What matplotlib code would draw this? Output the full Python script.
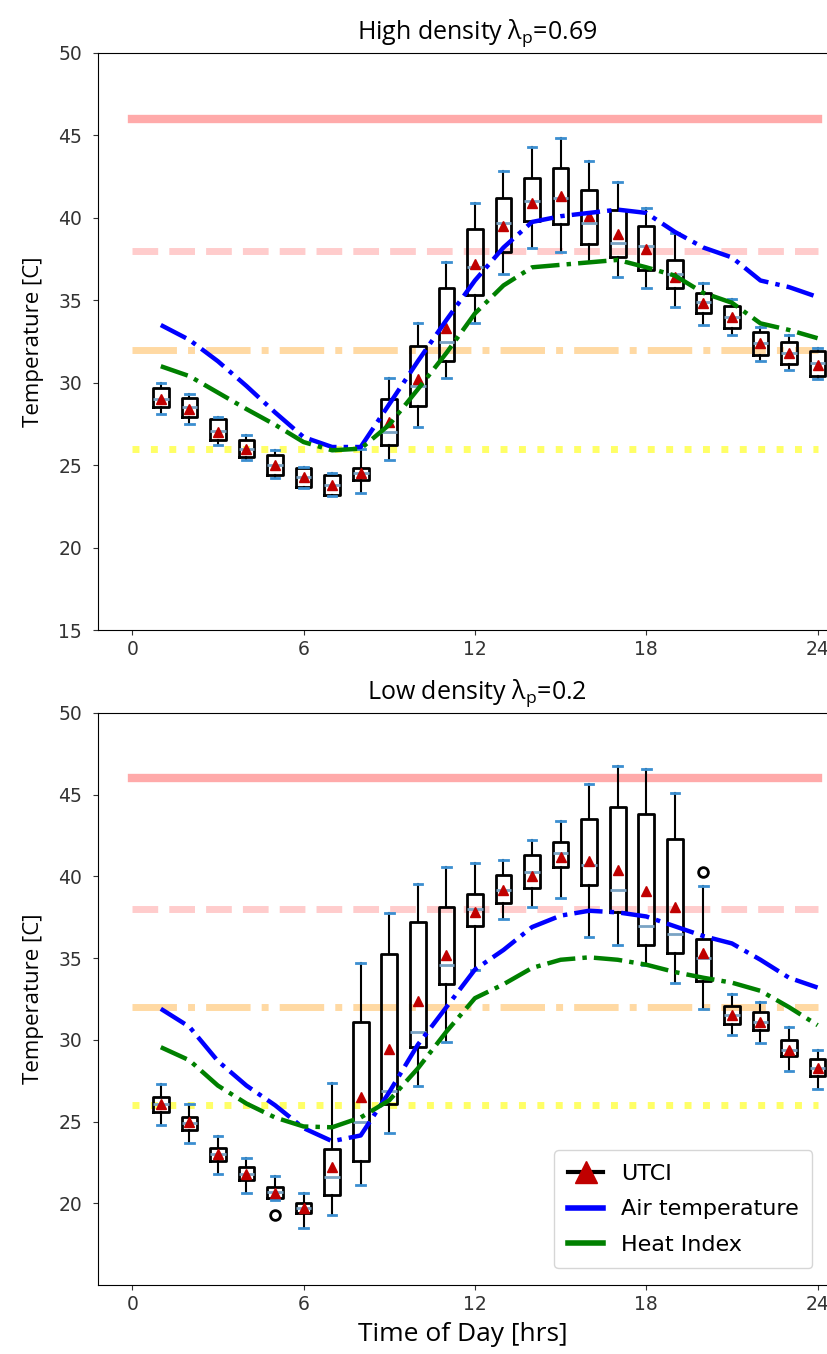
import numpy as np
import matplotlib.pyplot as plt
from matplotlib.lines import Line2D

plt.rcParams['mathtext.fontset'] = 'custom'
plt.rcParams['mathtext.rm'] = 'Open Sans'
plt.rcParams['mathtext.it'] = 'Open Sans:italic'

hours = np.arange(1, 25)

# high density (lambda_p = 0.69) UTCI box stats
hi_q1 = [28.5, 27.9, 26.5, 25.5, 24.4, 23.7, 23.2, 24.1, 26.2, 28.6, 31.3, 35.3,
         37.9, 39.8, 39.6, 38.4, 37.6, 36.85, 35.75, 34.2, 33.3, 31.7, 31.15, 30.4]
hi_q3 = [29.7, 29.1, 27.8, 26.5, 25.6, 24.85, 24.4, 24.85, 29.0, 32.2, 35.75, 39.3,
         41.2, 42.4, 43.0, 41.7, 40.5, 39.5, 37.45, 35.45, 34.65, 33.1, 32.5, 31.9]
hi_med = [29.0, 28.5, 27.1, 26.0, 25.0, 24.3, 23.8, 24.5, 27.0, 29.8, 32.5, 37.0,
          39.7, 41.0, 41.2, 39.7, 38.5, 38.3, 36.6, 34.9, 34.0, 32.4, 31.8, 31.2]
hi_mean = [29.0, 28.4, 27.0, 26.0, 25.0, 24.3, 23.8, 24.5, 27.6, 30.2, 33.3, 37.2,
           39.5, 40.9, 41.3, 40.1, 39.0, 38.1, 36.4, 34.85, 34.0, 32.4, 31.8, 31.1]
hi_lo = [28.1, 27.5, 26.2, 25.3, 24.2, 23.6, 23.1, 23.3, 25.3, 27.3, 30.3, 33.6,
         36.6, 38.2, 37.9, 37.3, 36.4, 35.75, 34.6, 33.5, 32.9, 31.3, 30.8, 30.2]
hi_hi = [30.0, 29.3, 27.9, 26.85, 25.9, 24.9, 24.5, 26.0, 30.3, 33.6, 37.3, 40.9,
         42.85, 44.3, 44.85, 43.45, 42.2, 40.6, 39.1, 36.05, 35.1, 33.4, 32.9, 32.1]
hi_fliers = [[] for _ in range(24)]
hi_air = [33.5, 32.6, 31.3, 29.8, 28.2, 26.7, 26.1, 26.1, 28.7, 31.3, 33.8, 36.2,
          38.2, 39.75, 40.1, 40.3, 40.5, 40.3, 39.15, 38.2, 37.6, 36.2, 35.8, 35.2]
hi_heat = [31.0, 30.4, 29.4, 28.4, 27.45, 26.4, 25.9, 26.0, 27.45, 29.6, 31.8, 34.2,
           35.9, 37.0, 37.15, 37.3, 37.45, 37.0, 36.5, 35.45, 34.85, 33.6, 33.2, 32.7]

# low density (lambda_p = 0.2)
lo_q1 = [25.6, 24.5, 22.6, 21.4, 20.3, 19.4, 20.5, 22.6, 26.1, 29.55, 33.4, 36.95,
         38.4, 39.3, 40.55, 39.45, 37.8, 35.8, 35.3, 33.6, 31.0, 30.6, 29.0, 27.8]
lo_q3 = [26.5, 25.3, 23.4, 22.2, 21.0, 20.0, 23.3, 31.1, 35.25, 37.2, 38.15, 38.9,
         40.1, 41.3, 42.1, 43.5, 44.25, 43.8, 42.3, 36.2, 32.1, 31.7, 30.0, 28.8]
lo_med = [26.1, 24.9, 23.0, 21.8, 20.7, 19.7, 21.6, 25.0, 26.9, 30.5, 34.6, 38.0,
          39.15, 40.25, 41.45, 40.7, 39.2, 36.95, 36.45, 35.0, 31.5, 31.1, 29.4, 28.3]
lo_mean = [26.05, 24.95, 23.0, 21.8, 20.6, 19.7, 22.25, 26.5, 29.45, 32.4, 35.2, 37.85,
           39.15, 40.0, 41.2, 40.95, 40.4, 39.1, 38.1, 35.3, 31.5, 31.1, 29.4, 28.3]
lo_lo = [24.8, 23.7, 21.8, 20.6, 20.2, 18.5, 19.3, 21.1, 24.3, 27.2, 29.85, 34.3,
         37.4, 38.1, 38.7, 36.3, 35.8, 34.6, 33.5, 31.9, 30.3, 29.8, 28.1, 27.0]
lo_hi = [27.3, 26.1, 24.1, 22.75, 21.7, 20.6, 27.35, 34.7, 37.75, 39.55, 40.55, 40.85,
         41.0, 42.2, 43.4, 45.65, 46.75, 46.6, 45.1, 39.4, 32.8, 32.3, 30.8, 29.4]
lo_fliers = [[] for _ in range(24)]
lo_fliers[4] = [19.3]
lo_fliers[19] = [40.25]
lo_air = [31.9, 30.8, 28.7, 27.2, 26.0, 24.6, 23.8, 24.15, 26.8, 29.7, 32.0, 34.3,
          35.5, 36.9, 37.6, 37.9, 37.8, 37.55, 36.95, 36.35, 35.9, 34.9, 33.8, 33.2]
lo_heat = [29.55, 28.75, 27.2, 26.1, 25.25, 24.7, 24.65, 25.25, 26.3, 28.25, 30.5, 32.55,
           33.4, 34.4, 34.9, 35.05, 34.9, 34.6, 34.15, 33.8, 33.5, 33.0, 32.0, 30.9]

# comfort thresholds
thresholds = [46, 38, 32, 26]
th_styles = [('#ffaaaa', '-', 6), ('#ffcccc', '--', 5), ('#ffd9a3', '-.', 5), ('#ffff66', ':', 5)]

fig = plt.figure(figsize=(8.27, 13.54), dpi=100)
ax1 = fig.add_axes([98/827, 1-630/1354, 729/827, 577/1354])
ax2 = fig.add_axes([98/827, 1-1285/1354, 729/827, 572/1354])


def panel(ax, q1, q3, med, mean, lo, hi, fliers, air, heat, title):
    for t, (c, ls, lw) in zip(thresholds, th_styles):
        ax.plot([0, 24], [t, t], color=c, linestyle=ls, linewidth=lw, zorder=1)
    stats = []
    for i in range(len(hours)):
        stats.append(dict(med=med[i], q1=q1[i], q3=q3[i], whislo=lo[i], whishi=hi[i],
                          mean=mean[i], fliers=fliers[i]))
    ax.bxp(stats, positions=hours, widths=0.55, showmeans=True, capwidths=0.3,
           boxprops=dict(color='black', linewidth=2),
           whiskerprops=dict(color='black', linewidth=1.5),
           capprops=dict(color='#3b8ed0', linewidth=2),
           medianprops=dict(color='#7aa3c4', linewidth=2),
           meanprops=dict(marker='^', markerfacecolor='#c00000', markeredgecolor='#c00000',
                          markersize=7),
           flierprops=dict(marker='o', markerfacecolor='none', markeredgecolor='black',
                           markersize=7, markeredgewidth=2),
           manage_ticks=False)
    ax.plot(hours, air, color='blue', linestyle='-.', linewidth=3.2, zorder=3)
    ax.plot(hours, heat, color='green', linestyle='-.', linewidth=3.2, zorder=3)
    ax.set_xlim(-1.2, 24.33)
    ax.set_ylim(15, 50)
    ax.set_xticks([0, 6, 12, 18, 24])
    ax.spines['right'].set_visible(False)
    ax.tick_params(labelsize=13.5, colors='#333333')
    ax.tick_params(axis='y', pad=8)
    ax.set_ylabel('Temperature [C]', fontsize=16, family='Open Sans', labelpad=10)
    ax.set_title(title, fontsize=18, family='Open Sans', pad=10, x=0.52)


panel(ax1, hi_q1, hi_q3, hi_med, hi_mean, hi_lo, hi_hi, hi_fliers, hi_air, hi_heat,
      'High density λ$_\\mathrm{p}$=0.69')
panel(ax2, lo_q1, lo_q3, lo_med, lo_mean, lo_lo, lo_hi, lo_fliers, lo_air, lo_heat,
      'Low density λ$_\\mathrm{p}$=0.2')
ax1.set_yticks([15, 20, 25, 30, 35, 40, 45, 50])
ax2.set_yticks([20, 25, 30, 35, 40, 45, 50])
ax2.set_xlabel('Time of Day [hrs]', fontsize=19, family='Open Sans', labelpad=6)

handles = [Line2D([], [], color='black', linewidth=3, marker='^', markersize=16,
                  markerfacecolor='#c00000', markeredgecolor='#c00000'),
           Line2D([], [], color='blue', linewidth=4),
           Line2D([], [], color='green', linewidth=4)]
ax2.legend(handles, ['UTCI', 'Air temperature', 'Heat Index'], loc='lower right',
           fontsize=16, handlelength=1.6, borderpad=0.6, labelspacing=0.7,
           bbox_to_anchor=(0.995, 0.01))

fig.savefig('out.png', dpi=100)
